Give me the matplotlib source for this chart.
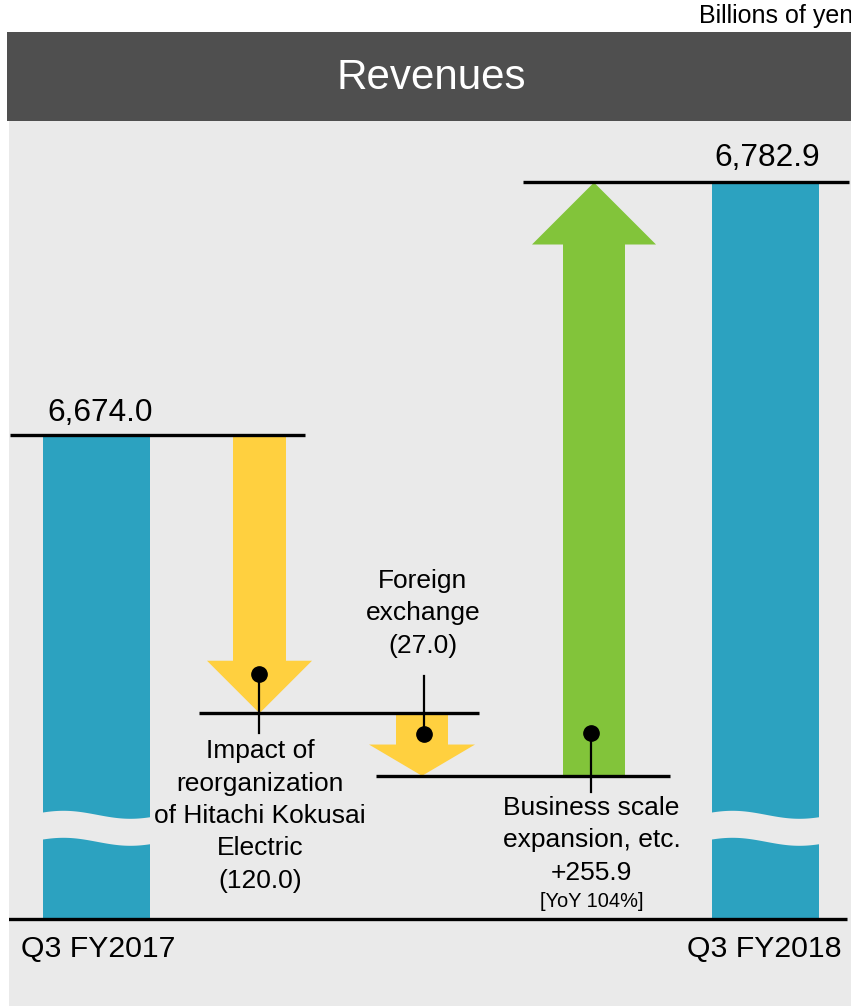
import matplotlib
matplotlib.use("Agg")
import matplotlib.pyplot as plt
from matplotlib.patches import Polygon, Rectangle
import numpy as np

plt.rcParams['font.family'] = ['Liberation Sans', 'DejaVu Sans']

# ---------------- data ----------------
title = "Revenues"
unit_label = "Billions of yen"
period_labels = ["Q3 FY2017", "Q3 FY2018"]
start_value = 6674.0
end_value = 6782.9
change_values = [-120.0, -27.0, 255.9]
change_texts = [["Impact of", "reorganization", "of Hitachi Kokusai", "Electric"],
                ["Foreign", "exchange"],
                ["Business scale", "expansion, etc."]]
yoy_label = "[YoY 104%]"

# ---------------- layout / style ----------------
W, H = 851, 1006
BG = "#EAEAEA"
HEADER = "#4F4F4F"
TEAL = "#2CA2C0"
YELLOW = "#FFD03F"
GREEN = "#82C43A"

bar_x = [96.5, 765.5]
bar_w = 107
arrow_x = [259.5, 422.0, 594.0]
arrow_shaft_hw = [26.5, 26.0, 31.0]
arrow_head_hw = [52.5, 53.0, 62.0]
level_line_ext = [(10, 305), (199, 479), (376, 670), (523, 849)]

fig = plt.figure(figsize=(W / 100, H / 100), dpi=100)
fig.patch.set_facecolor("white")

ax_left, ax_top = 9, 121
ax = fig.add_axes([ax_left / W, 0, (W - ax_left) / W, (H - ax_top) / H])
ax.set_facecolor(BG)
for s in ax.spines.values():
    s.set_visible(False)
ax.set_xticks([])
ax.set_yticks([])

# vertical scale: start level at pixel row 435, end level at pixel row 182.5
k = (435 - 182.5) / (end_value - start_value)   # pixels per billion yen


def py(p):
    """pixel row -> data value"""
    return start_value - (p - 435) / k


ax.set_xlim(ax_left, W)
ax.set_ylim(py(H), py(ax_top))

levels = np.concatenate([[start_value], start_value + np.cumsum(change_values)])
base = py(919)

# bars
ax.bar(bar_x, [start_value - base, end_value - base], bottom=base, width=bar_w,
       color=TEAL, zorder=2)

# wave breaks
for xc in bar_x:
    left = xc - bar_w / 2
    xs = np.linspace(left - 1, left + bar_w + 1, 200)
    top_px = 814.3 - 4 * np.cos(2 * np.pi * (xs - (left + 20)) / 134)
    bot_px = top_px + 27
    ax.fill_between(xs, py(top_px), py(bot_px), color=BG, lw=0, zorder=3)

# arrows
for i, dv in enumerate(change_values):
    y0, y1 = levels[i], levels[i + 1]
    xc = arrow_x[i]
    sw, hw = arrow_shaft_hw[i], arrow_head_hw[i]
    length_px = abs(y1 - y0) * k
    hl_px = min(hw, 0.5 * length_px)
    d = np.sign(y1 - y0)
    yhb = y1 - d * hl_px / k
    pts = [(xc - sw, y0), (xc + sw, y0), (xc + sw, yhb), (xc + hw, yhb),
           (xc, y1), (xc - hw, yhb), (xc - sw, yhb)]
    color = GREEN if dv > 0 else YELLOW
    ax.add_patch(Polygon(pts, closed=True, facecolor=color, edgecolor="none", zorder=2))

# level lines
for lv, (xa, xb) in zip(levels, level_line_ext):
    ax.plot([xa, xb], [lv, lv], color="black", lw=2.4, solid_capstyle="butt", zorder=4)

# baseline
ax.plot([8, 847], [base, base], color="black", lw=2.4, solid_capstyle="butt", zorder=4)

# dots with stems
dots = [(258.7, 674, 733), (423.5, 734, 676), (591.0, 733, 792)]
for xd, yd, ys in dots:
    ax.plot([xd, xd], [py(yd), py(ys)], color="black", lw=1.6, zorder=5)
    ax.plot([xd], [py(yd)], marker="o", ms=11, color="black", zorder=6)

# value labels
ax.text(100, py(420.7), f"{start_value:,.1f}", ha="center", va="baseline", fontsize=22.8, zorder=7)
ax.text(767, py(166), f"{end_value:,.1f}", ha="center", va="baseline", fontsize=22.8, zorder=7)

# period labels
ax.text(98.5, py(956.7), period_labels[0], ha="center", va="baseline", fontsize=21.8)
ax.text(764.7, py(956.7), period_labels[1], ha="center", va="baseline", fontsize=21.8)


def fmt_change(v):
    return f"+{v:.1f}" if v > 0 else f"({abs(v):.1f})"


# change annotations
text_pos = [(260, 758.3), (423, 588), (591.5, 815)]
for (xt, yt), lines, v in zip(text_pos, change_texts, change_values):
    all_lines = lines + [fmt_change(v)]
    for j, ln in enumerate(all_lines):
        ax.text(xt, py(yt + 32.4 * j), ln, ha="center", va="baseline", fontsize=19, zorder=7)
ax.text(591.5, py(907), yoy_label, ha="center", va="baseline", fontsize=14.4, zorder=7)

# header
fig.add_artist(Rectangle((7 / W, (H - 121) / H), (W - 7) / W, 89 / H,
                         transform=fig.transFigure, facecolor=HEADER, edgecolor="none"))
fig.text(431 / W, 1 - 89 / H, title, ha="center", va="baseline", color="white", fontsize=30.3)
fig.text(853 / W, 1 - 23 / H, unit_label, ha="right", va="baseline", fontsize=18)

fig.savefig("out.png", dpi=100, facecolor=fig.get_facecolor())
